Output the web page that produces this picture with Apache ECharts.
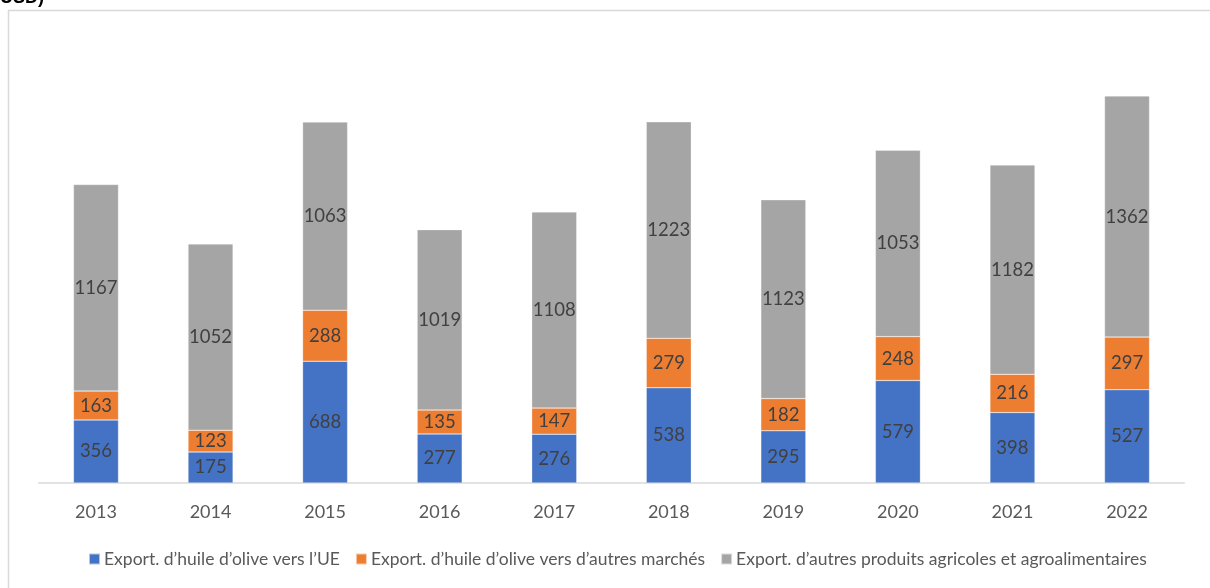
<!DOCTYPE html>
<html><head><meta charset="utf-8">
<script src="https://cdn.jsdelivr.net/npm/echarts@6/dist/echarts.min.js"></script>
<style>html,body{margin:0;padding:0;background:#fff;}#c{width:1210px;height:588px;}</style>
</head><body><div id="c"></div>
<script>
const years = ['2013','2014','2015','2016','2017','2018','2019','2020','2021','2022'];
const oliveUE = [356,175,688,277,276,538,295,579,398,527];
const oliveOther = [163,123,288,135,147,279,182,248,216,297];
const otherProducts = [1167,1052,1063,1019,1108,1223,1123,1053,1182,1362];
const seriesNames = ["Export. d’huile d’olive vers l’UE","Export. d’huile d’olive vers d’autres marchés","Export. d’autres produits agricoles et agroalimentaires"];
const colors = ['#4472C4','#ED7D31','#A5A5A5'];
const FONT = 'Lato, "Open Sans", sans-serif';
const chart = echarts.init(document.getElementById('c'));
function mk(name, data, color){
  return {name, type:'bar', stack:'t', data, barWidth:45,
    itemStyle:{color, borderColor:'rgba(255,255,255,0.6)', borderWidth:0.5},
    label:{show:true, position:'inside', color:'#404040', fontSize:18.5, fontFamily:FONT}};
}
chart.setOption({
  animation:false,
  textStyle:{fontFamily:FONT},
  graphic:[
    {type:'rect', shape:{x:8.5,y:10.5,width:1210,height:600}, style:{fill:'none',stroke:'#d9d9d9',lineWidth:1.5}, z:-1},
    {type:'text', left:0, top:-11, style:{text:'USD)', font:'bold 18px "Liberation Sans", Arial, sans-serif', fill:'#000'}}
  ],
  grid:{left:38.7, right:25.7, top:40.4, bottom:105, containLabel:false},
  xAxis:{type:'category', data:years,
    axisLine:{lineStyle:{color:'#d9d9d9', width:1.5}}, axisTick:{show:false},
    axisLabel:{color:'#595959', fontSize:18, margin:20, fontFamily:FONT}},
  yAxis:{type:'value', min:0, max:2500, show:false, splitLine:{show:false}},
  legend:{bottom:15, left:83, itemWidth:11, itemHeight:11, itemGap:15, icon:'rect',
    textStyle:{color:'#595959', fontSize:17.5, fontFamily:FONT, padding:[0,0,0,-1]}, data:seriesNames},
  series:[mk(seriesNames[0], oliveUE, colors[0]), mk(seriesNames[1], oliveOther, colors[1]), mk(seriesNames[2], otherProducts, colors[2])]
});
</script></body></html>
